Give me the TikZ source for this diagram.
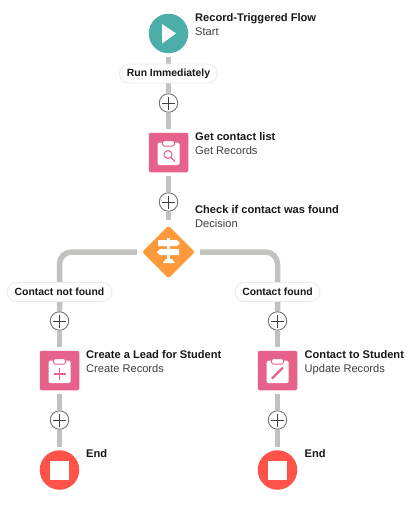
\documentclass[tikz,border=0pt]{standalone}
\usepackage{fontspec}
\setmainfont{Liberation Sans}
\usetikzlibrary{positioning,shapes.geometric,backgrounds}
\definecolor{startc}{HTML}{4BAEA8}
\definecolor{recc}{HTML}{E7628B}
\definecolor{decc}{HTML}{FF9A3C}
\definecolor{endc}{HTML}{FF5349}
\definecolor{connc}{HTML}{C2C2C0}
\definecolor{ringc}{HTML}{757575}
\definecolor{pillc}{HTML}{EAEAEA}
\definecolor{titlec}{HTML}{181818}
\definecolor{subc}{HTML}{3E3E3C}
\tikzset{
  icon/.style={inner sep=0pt, outer sep=3.7pt, minimum size=39.5pt},
  startbox/.style={icon, circle, fill=startc},
  endbox/.style={icon, circle, fill=endc},
  recbox/.style={icon, rectangle, rounded corners=2pt, fill=recc},
  decbox/.style={diamond, aspect=1, inner sep=0pt, outer sep=3.7pt, minimum size=56pt,
                 rounded corners=2.5pt, fill=decc},
  plusbtn/.style={circle, draw=ringc, line width=0.9pt, fill=white, inner sep=0pt, minimum size=18.5pt,
                  path picture={
                    \draw[line width=0.8pt, draw=black!75]
                      ([xshift=-6.5pt]path picture bounding box.center) -- ([xshift=6.5pt]path picture bounding box.center)
                      ([yshift=-6.5pt]path picture bounding box.center) -- ([yshift=6.5pt]path picture bounding box.center);
                  }},
  pill/.style={draw=pillc, line width=0.8pt, fill=white, rounded corners=9.5pt, minimum height=19pt,
               inner sep=0pt, font=\fontsize{10.4}{12}\selectfont\bfseries, text=titlec},
  conn/.style={draw=connc, line width=5.5pt},
  lbl/.style={anchor=north west, align=left, inner sep=0pt, text=subc,
              font=\fontsize{11.1}{13.2}\selectfont},
  clipboard/.pic={
    \fill[white, rounded corners=1.5pt] (-11,-10) rectangle (11,12.5);
    \fill[white, draw=recc, line width=1pt, rounded corners=1.5pt] (-6,-12) rectangle (6,-6.5);
  },
}

\begin{document}
\begin{tikzpicture}[x=1pt, y=-1pt]
  \useasboundingbox (0,0) rectangle (419,512);
  \begin{scope}[on background layer]
    \fill[white] (0,0) rectangle (419,512);
  \end{scope}

  \node[startbox] (start) at (168.5,33.5) {};
  \node[pill, minimum width=98pt] (run) at (168.5,73.5) {Run Immediately};
  \node[plusbtn] (plusa) at (168.5,103) {};
  \node[recbox] (get) at (168.5,152.5) {};
  \node[plusbtn] (plusb) at (168.5,202) {};
  \node[decbox] (dec) at (168.5,252) {};

  \node[pill, minimum width=105pt] (notfound) at (59.5,292) {Contact not found};
  \node[pill, minimum width=85pt] (found) at (277.5,292) {Contact found};

  \node[plusbtn] (plusc) at (59.5,321) {};
  \node[recbox] (create) at (59.5,370.5) {};
  \node[plusbtn] (plusd) at (59.5,420) {};
  \node[endbox] (endl) at (59.5,470) {};

  \node[plusbtn] (pluse) at (277.5,321) {};
  \node[recbox] (update) at (277.5,370.5) {};
  \node[plusbtn] (plusf) at (277.5,420) {};
  \node[endbox] (endr) at (277.5,470) {};

  \node[lbl] (startlbl) at (195,13.7) {\textcolor{titlec}{\textbf{Record-Triggered Flow}}\\Start};
  \node[lbl] (getlbl) at (195,132.7) {\textcolor{titlec}{\textbf{Get contact list}}\\Get Records};
  \node[lbl] (declbl) at (195,205.7) {\textcolor{titlec}{\textbf{Check if contact was found}}\\Decision};
  \node[lbl] (createlbl) at (86,350.7) {\textcolor{titlec}{\textbf{Create a Lead for Student}}\\Create Records};
  \node[lbl] (updatelbl) at (304.5,350.7) {\textcolor{titlec}{\textbf{Contact to Student}}\\Update Records};
  \node[lbl] (endllbl) at (86,449) {\textcolor{titlec}{\textbf{End}}};
  \node[lbl] (endrlbl) at (304.5,449) {\textcolor{titlec}{\textbf{End}}};

  % icons
  \fill[white] (162,24) -- (176,33.5) -- (162,43.5) -- cycle;
  \foreach \n in {endl,endr}
    \fill[white] ([xshift=-9.5pt,yshift=-9.5pt]\n.center) rectangle ([xshift=9.5pt,yshift=9.5pt]\n.center);
  \pic at (get.center) {clipboard};
  \pic at (create.center) {clipboard};
  \pic at (update.center) {clipboard};
  \draw[recc, line width=1pt] (168,154.5) circle (4);
  \draw[recc, line width=1.2pt] (171,157.5) -- (175,161.5);
  \draw[recc, line width=1.1pt] (59.5,368) -- (59.5,380) (53.5,374) -- (65.5,374);
  \draw[recc, line width=2.4pt] (272,378.5) -- (283,367.5);
  \fill[white] (158,240) -- (177,240) -- (180,243) -- (177,246) -- (158,246) -- cycle;
  \fill[white] (160,249) -- (179,249) -- (179,255) -- (160,255) -- (157,252) -- cycle;
  \fill[white] (167,238) rectangle (170,262);
  \fill[white] (163,263) -- (166,259) -- (172,259) -- (175,263) -- cycle;

  \begin{scope}[on background layer]
    \draw[conn] (start) -- (plusa);
    \draw[conn] (plusa) -- (get);
    \draw[conn] (get) -- (plusb);
    \draw[conn] (plusb) -- (dec);
    \draw[conn, rounded corners=12pt] (dec.west) -| (plusc);
    \draw[conn, rounded corners=12pt] (dec.east) -| (pluse);
    \draw[conn] (plusc) -- (create);
    \draw[conn] (create) -- (plusd);
    \draw[conn] (plusd) -- (endl);
    \draw[conn] (pluse) -- (update);
    \draw[conn] (update) -- (plusf);
    \draw[conn] (plusf) -- (endr);
  \end{scope}
\end{tikzpicture}
\end{document}
